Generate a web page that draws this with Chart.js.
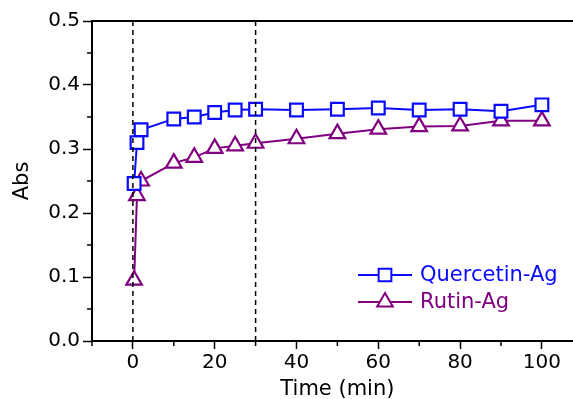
<!DOCTYPE html>
<html>
<head>
<meta charset="utf-8">
<script src="https://cdn.jsdelivr.net/npm/chart.js@4.4.0/dist/chart.umd.min.js"></script>
<style>
  html, body { margin: 0; padding: 0; background: #fff; overflow: hidden; }
  canvas { display: block; }
</style>
</head>
<body>
<canvas id="absChart" width="594" height="399"></canvas>
<script>
// data
const quercetinTime = [0.3, 1, 2, 10, 15, 20, 25, 30, 40, 50, 60, 70, 80, 90, 100];
const quercetinAbs = [0.246, 0.310, 0.330, 0.347, 0.350, 0.357, 0.361, 0.362, 0.361, 0.362, 0.364, 0.361, 0.362, 0.359, 0.369];
const rutinTime = [0.3, 1, 2, 10, 15, 20, 25, 30, 40, 50, 60, 70, 80, 90, 100];
const rutinAbs = [0.095, 0.227, 0.250, 0.278, 0.287, 0.301, 0.305, 0.309, 0.316, 0.324, 0.331, 0.335, 0.336, 0.344, 0.344];
const markerTimes = [0, 30]; // dashed guide lines
const seriesNames = ["Quercetin-Ag", "Rutin-Ag"];

const FONT = "'DejaVu Sans', sans-serif";
const BLUE = "#0a0aff";
const PURPLE = "#800080";

function toPoints(xs, ys) {
  return xs.map((x, i) => ({ x: x, y: ys[i] }));
}

// dashed lines, top frame line, minor ticks and the legend box
const extrasPlugin = {
  id: "extras",
  afterDraw(chart) {
    const ctx = chart.ctx;
    const area = chart.chartArea;
    const xs = chart.scales.x;
    const ys = chart.scales.y;
    ctx.save();

    // guide lines
    ctx.strokeStyle = "#000";
    ctx.lineWidth = 1.5;
    ctx.setLineDash([5, 4]);
    markerTimes.forEach((t) => {
      const px = xs.getPixelForValue(t);
      ctx.beginPath();
      ctx.moveTo(px, area.top);
      ctx.lineTo(px, area.bottom);
      ctx.stroke();
    });
    ctx.setLineDash([]);

    // top frame
    ctx.lineWidth = 2;
    ctx.beginPath();
    ctx.moveTo(area.left, area.top);
    ctx.lineTo(area.right, area.top);
    ctx.stroke();

    // minor ticks (shorter)
    ctx.lineWidth = 1.5;
    ys.ticks.forEach((t) => {
      if (Math.round(t.value * 100) % 10 !== 0) {
        const py = ys.getPixelForValue(t.value);
        ctx.beginPath();
        ctx.moveTo(area.left - 5, py);
        ctx.lineTo(area.left, py);
        ctx.stroke();
      }
    });
    xs.ticks.forEach((t) => {
      if (Math.round(t.value) % 20 !== 0) {
        const px = xs.getPixelForValue(t.value);
        ctx.beginPath();
        ctx.moveTo(px, area.bottom);
        ctx.lineTo(px, area.bottom + 5);
        ctx.stroke();
      }
    });

    // legend
    const rows = [275, 302];
    chart.data.datasets.forEach((ds, i) => {
      const y = rows[i];
      ctx.strokeStyle = ds.borderColor;
      ctx.lineWidth = 2;
      ctx.beginPath();
      ctx.moveTo(358, y);
      ctx.lineTo(412, y);
      ctx.stroke();
      ctx.fillStyle = "#fff";
      Chart.helpers.drawPoint(ctx, {
        pointStyle: ds.pointStyle,
        radius: ds.pointRadius,
        borderWidth: 2
      }, 385, y);
      ctx.fillStyle = ds.borderColor;
      ctx.font = "21px " + FONT;
      ctx.textBaseline = "middle";
      ctx.textAlign = "left";
      ctx.fillText(ds.label, 420, y + 1);
    });

    ctx.restore();
  }
};

const ctx = document.getElementById("absChart").getContext("2d");

new Chart(ctx, {
  type: "line",
  data: {
    datasets: [
      {
        label: seriesNames[0],
        data: toPoints(quercetinTime, quercetinAbs),
        borderColor: BLUE,
        backgroundColor: "#fff",
        borderWidth: 2,
        pointStyle: "rect",
        pointRadius: 9,
        pointBorderWidth: 2.2,
        pointBackgroundColor: "#fff",
        tension: 0,
      },
      {
        label: seriesNames[1],
        data: toPoints(rutinTime, rutinAbs),
        borderColor: PURPLE,
        backgroundColor: "#fff",
        borderWidth: 2,
        pointStyle: "triangle",
        pointRadius: 9,
        pointBorderWidth: 2.2,
        pointBackgroundColor: "#fff",
        tension: 0,
      },
    ],
  },
  options: {
    responsive: false,
    animation: false,
    layout: { padding: { top: 21, left: 0, right: 0, bottom: 0 } },
    scales: {
      x: {
        type: "linear",
        min: -10,
        max: 110,
        afterFit(scale) { scale.height = 58; },
        ticks: {
          stepSize: 10,
          autoSkip: false,
          maxRotation: 0,
          padding: 2,
          color: "#000",
          font: { family: FONT, size: 20 },
          callback: function(value) {
            return Math.round(value) % 20 === 0 ? String(value) : "";
          },
        },
        grid: {
          drawOnChartArea: false,
          drawTicks: true,
          tickLength: 8,
          tickWidth: 1.5,
          tickColor: (c) => (c.tick && Math.round(c.tick.value) % 20 === 0 ? "#000" : "rgba(0,0,0,0)"),
        },
        border: { display: true, color: "#000", width: 2 },
        title: {
          display: true,
          text: "Time (min)",
          color: "#000",
          font: { family: FONT, size: 21, lineHeight: 1.2 },
          padding: { top: 0, bottom: -3 },
        },
      },
      y: {
        type: "linear",
        min: 0,
        max: 0.5,
        afterFit(scale) { scale.width = 92; },
        ticks: {
          stepSize: 0.05,
          autoSkip: false,
          padding: 3,
          color: "#000",
          font: { family: FONT, size: 20 },
          callback: function(value) {
            return Math.round(value * 100) % 10 === 0 ? value.toFixed(1) : "";
          },
        },
        grid: {
          drawOnChartArea: false,
          drawTicks: true,
          tickLength: 9,
          tickWidth: 1.5,
          tickColor: (c) => (c.tick && Math.round(c.tick.value * 100) % 10 === 0 ? "#000" : "rgba(0,0,0,0)"),
        },
        border: { display: true, color: "#000", width: 2 },
        title: {
          display: true,
          text: "Abs",
          color: "#000",
          font: { family: FONT, size: 21, lineHeight: 1.2 },
          padding: { top: 10, bottom: 0 },
        },
      },
    },
    plugins: {
      legend: { display: false },
      tooltip: { enabled: false },
    },
  },
  plugins: [extrasPlugin],
});
</script>
</body>
</html>
